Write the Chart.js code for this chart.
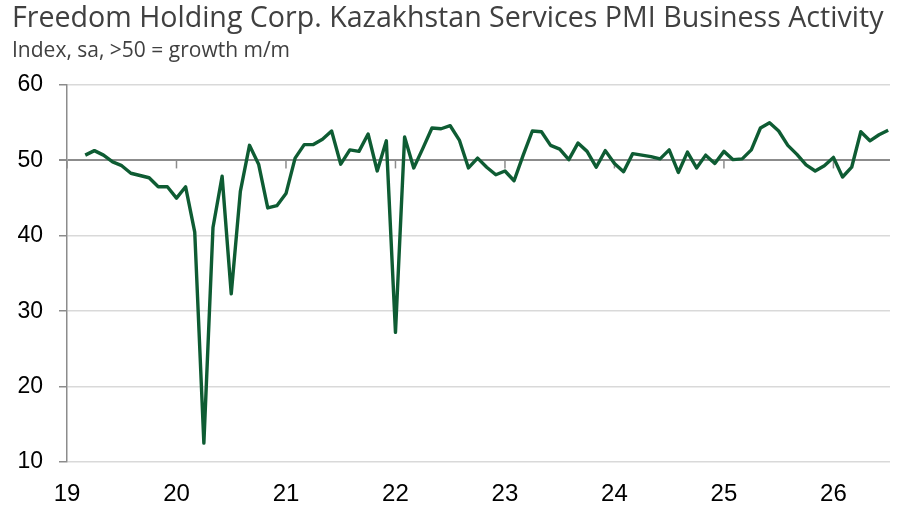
<!DOCTYPE html>
<html>
<head>
<meta charset="utf-8">
<script src="https://cdn.jsdelivr.net/npm/chart.js@4.4.1/dist/chart.umd.min.js"></script>
<style>
  html, body { margin: 0; padding: 0; background: #fff; }
  #wrap { width: 900px; height: 510px; position: relative; }
</style>
</head>
<body>
<div id="wrap"><canvas id="pmiChart"></canvas></div>
<script>
// Series starts March 2019; x = months since Jan 2019.
var firstYear = 2019;
var firstMonthIndex = 2;
var activity = [
    50.7, 51.3, 50.7, 49.8, 49.3, 48.3, 48.0, 47.7, 46.5, 46.5,
    45.0, 46.5, 40.5, 12.5, 41.1, 47.9, 32.3, 45.9, 52.0, 49.5, 43.7, 44.0,
    45.6, 50.3, 52.1, 52.1, 52.8, 53.9, 49.5, 51.4, 51.2, 53.5, 48.6, 52.6,
    27.2, 53.1, 49.0, 51.6, 54.3, 54.2, 54.6, 52.7, 49.0, 50.3, 49.1, 48.1,
    48.6, 47.3, 50.7, 53.9, 53.8, 52.0, 51.5, 50.1, 52.3, 51.2, 49.1, 51.3,
    49.6, 48.5, 50.9, 50.7, 50.5, 50.2, 51.4, 48.4, 51.1, 49.0, 50.7, 49.6,
    51.2, 50.1, 50.2, 51.4, 54.3, 55.0, 53.9, 52.0, 50.8, 49.4, 48.6, 49.3,
    50.4, 47.8, 49.1, 53.8, 52.6, 53.4, 54.0
];
var yearLabels = ["19", "20", "21", "22", "23", "24", "25", "26"];
var yTicks = [10, 20, 30, 40, 50, 60];

var points = activity.map(function (v, i) {
    return { x: firstMonthIndex + i, y: v };
});

// Small tick marks hanging under the 50 line at each year start.
const yearTickPlugin = {
    id: 'yearTicks',
    beforeDatasetsDraw(chart) {
        const ctx = chart.ctx;
        const xs = chart.scales.x;
        const ys = chart.scales.y;
        const py = ys.getPixelForValue(50);
        ctx.save();
        ctx.strokeStyle = '#8c8c8c';
        ctx.lineWidth = 1.5;
        yearLabels.forEach((lab, i) => {
            const px = xs.getPixelForValue(i * 12);
            ctx.beginPath();
            ctx.moveTo(px, py);
            ctx.lineTo(px, py + 8);
            ctx.stroke();
        });
        ctx.restore();
    }
};

const ctx = document.getElementById('pmiChart').getContext('2d');
const myChart = new Chart(ctx, {
    type: 'line',
    data: {
        datasets: [{
            data: points,
            borderColor: '#0e5c33',
            borderWidth: 3.4,
            pointRadius: 0,
            tension: 0,
            borderJoinStyle: 'round'
        }]
    },
    options: {
        responsive: true,
        maintainAspectRatio: false,
        animation: false,
        events: [],
        layout: { padding: { left: 12, right: 10, top: 0, bottom: 0 } },
        plugins: {
            legend: { display: false },
            tooltip: { enabled: false },
            title: {
                display: true,
                text: 'Freedom Holding Corp. Kazakhstan Services PMI Business Activity',
                align: 'start',
                color: '#404040',
                font: { family: 'Open Sans', size: 28.6, weight: 'normal', lineHeight: 1.2 },
                padding: { top: 1.5, bottom: 0.5 }
            },
            subtitle: {
                display: true,
                text: 'Index, sa, >50 = growth m/m',
                align: 'start',
                color: '#404040',
                font: { family: 'Open Sans', size: 21, weight: 'normal', lineHeight: 1.2 },
                padding: { top: 2, bottom: 21.5 }
            }
        },
        scales: {
            x: {
                type: 'linear',
                min: 0,
                max: 90.2,
                afterBuildTicks: function (s) {
                    s.ticks = yearLabels.map((l, i) => ({ value: i * 12 }));
                },
                afterFit: function (s) { s.height = 48; },
                grid: { display: false, drawTicks: false },
                border: { display: false },
                ticks: {
                    autoSkip: false,
                    maxRotation: 0,
                    padding: 18,
                    color: '#000',
                    font: { family: 'Liberation Sans', size: 24 },
                    callback: function (v) { return yearLabels[Math.round(v / 12)]; }
                }
            },
            y: {
                min: 10,
                max: 60,
                afterBuildTicks: function (s) {
                    s.ticks = yTicks.map(v => ({ value: v }));
                },
                afterFit: function (s) { s.width = 55; },
                grid: {
                    color: (c) => (c.tick && c.tick.value === 50) ? '#8c8c8c' : '#d9d9d9',
                    lineWidth: (c) => (c.tick && c.tick.value === 50) ? 2 : 1.5,
                    tickColor: '#8c8c8c',
                    tickLength: 8
                },
                border: { display: true, color: '#8c8c8c', width: 1.5 },
                ticks: {
                    padding: 16,
                    color: '#000',
                    font: { family: 'Liberation Sans', size: 23 }
                }
            }
        }
    },
    plugins: [yearTickPlugin]
});
</script>
</body>
</html>
